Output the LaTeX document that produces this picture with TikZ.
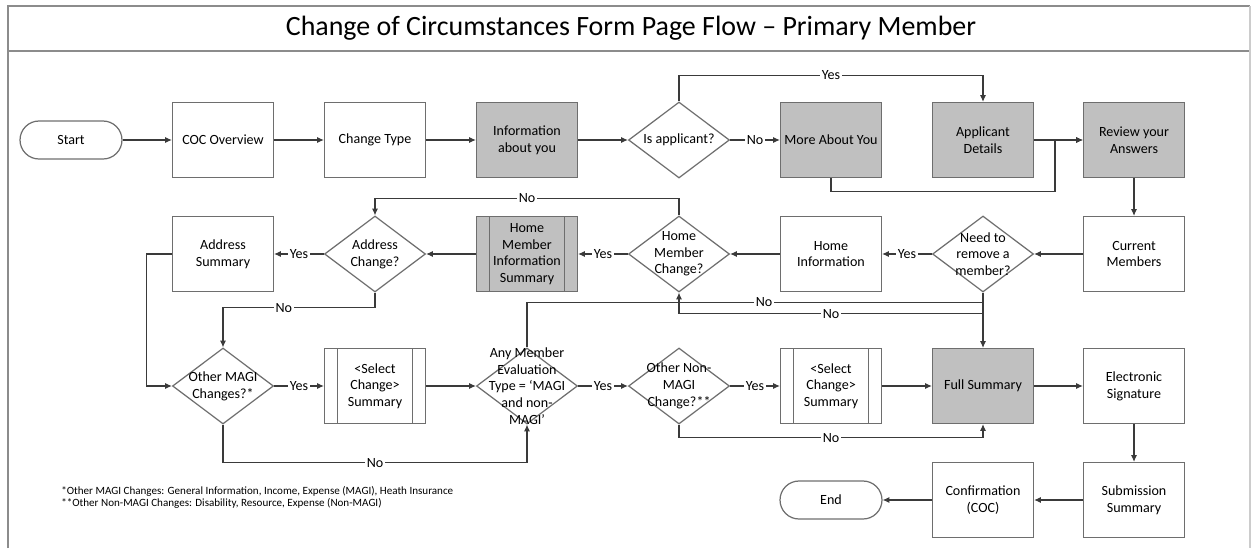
\documentclass[tikz,border=0pt]{standalone}
\usepackage{fontspec}
\setmainfont{Carlito}
\usetikzlibrary{shapes.geometric,arrows.meta}
\definecolor{boxgray}{HTML}{C0C0C0}
\definecolor{edgegray}{HTML}{6E6E6E}
\definecolor{linegray}{HTML}{3A3A3A}
\definecolor{framegray}{HTML}{8C8C8C}

\begin{document}
\begin{tikzpicture}[x=0.02cm, y=-0.02cm, >={Latex[length=3.8pt,width=3.4pt]},
	font=\fontsize{8}{9.5}\selectfont,
	main/.style = {draw=edgegray, line width=0.7pt, rectangle, minimum width=2.02cm, minimum height=1.5cm, inner sep=1pt, align=center},
	page/.style = {main, fill=boxgray},
	sub/.style = {main, path picture={\draw[edgegray, line width=0.7pt]
		([xshift=0.26cm]path picture bounding box.north west) -- ([xshift=0.26cm]path picture bounding box.south west)
		([xshift=-0.26cm]path picture bounding box.north east) -- ([xshift=-0.26cm]path picture bounding box.south east);}},
	term/.style = {draw=edgegray, line width=0.7pt, rounded corners=0.38cm, minimum width=2.04cm, minimum height=0.76cm},
	ask/.style = {draw=edgegray, line width=0.7pt, diamond, minimum width=2.02cm, minimum height=1.52cm, inner sep=0pt},
	flow/.style = {->, linegray, line width=0.6pt},
	ans/.style = {fill=white, inner sep=1pt, text=black},
	note/.style = {anchor=west, inner sep=0pt, font=\fontsize{6.3}{7.5}\selectfont}]
	\useasboundingbox (0,0) rectangle (1251,548);
	
	% frame and title band
	\draw[framegray, line width=1.2pt] (8,548) -- (8,6) -- (1250,6);
	\draw[framegray, line width=1.2pt] (8,51) -- (1250,51);
	\draw[black!20, line width=1pt] (1250,6) -- (1250,548);
	\node (title) at (631,28) {\fontsize{15.9}{18}\selectfont Change of Circumstances Form Page Flow – Primary Member};
	
	\node[term] (start) at (71,140) {Start};
	\node[main] (coc) at (223,140) {COC Overview};
	\node[main] (ctype) at (375,140) {Change Type};
	\node[page] (info) at (527,140) {Information\\about you};
	\node[ask, label={[align=center]center:Is applicant?}] (isapp) at (679,140) {};
	\node[page] (more) at (831,140) {More About You};
	\node[page] (appdet) at (983,140) {Applicant\\Details};
	\node[page] (review) at (1134,140) {Review your\\Answers};
	
	\node[main] (addrsum) at (223,254) {Address\\Summary};
	\node[ask, label={[align=center]center:Address\\Change?}] (addrchg) at (375,254) {};
	\node[sub, fill=boxgray] (hmis) at (527,254) {Home\\Member\\Information\\Summary};
	\node[ask, label={[align=center]center:Home\\Member\\Change?}] (hmchg) at (679,254) {};
	\node[main] (homeinfo) at (831,254) {Home\\Information};
	\node[ask, label={[align=center]center:Need to\\remove a\\member?}] (needrm) at (983,254) {};
	\node[main] (curmem) at (1134,254) {Current\\Members};
	
	\node[ask, label={[align=center]center:Other MAGI\\Changes?*}] (magi) at (223,386) {};
	\node[sub] (sel1) at (375,386) {<Select\\Change>\\Summary};
	\node[ask, label={[align=center]center:Any Member\\Evaluation\\Type = ‘MAGI\\and non-\\MAGI’}] (anymem) at (527,386) {};
	\node[ask, label={[align=center]center:Other Non-\\MAGI\\Change?**}] (nonmagi) at (679,386) {};
	\node[sub] (sel2) at (831,386) {<Select\\Change>\\Summary};
	\node[page] (fullsum) at (983,386) {Full Summary};
	\node[main] (esig) at (1134,386) {Electronic\\Signature};
	
	\node[term] (endn) at (831,500) {End};
	\node[main] (confirm) at (983,500) {Confirmation\\(COC)};
	\node[main] (subsum) at (1134,500) {Submission\\Summary};
	
	\node[note] (note1) at (61,491) {*Other MAGI Changes: General Information, Income, Expense (MAGI), Heath Insurance};
	\node[note] (note2) at (61,503) {**Other Non-MAGI Changes: Disability, Resource, Expense (Non-MAGI)};
	
	\coordinate (join) at (1055,140);
	
	\draw[flow] (start.east) -- (coc.west);
	\draw[flow] (coc.east) -- (ctype.west);
	\draw[flow] (ctype.east) -- (info.west);
	\draw[flow] (info.east) -- (isapp.west);
	\draw[flow] (isapp.east) -- node[ans]{No} (more.west);
	\draw[flow] (isapp.north) -- ++(0,-26) -| node[pos=0.25, ans]{Yes} (appdet.north);
	\draw[flow] (appdet.east) -- (review.west);
	\draw[flow] (more.south) -- ++(0,13) -| (join) -- (review.west);
	\draw[flow] (review.south) -- (curmem.north);
	\draw[flow] (curmem.west) -- (needrm.east);
	\draw[flow] (needrm.west) -- node[ans]{Yes} (homeinfo.east);
	\draw[flow] (homeinfo.west) -- (hmchg.east);
	\draw[flow] (hmchg.west) -- node[ans]{Yes} (hmis.east);
	\draw[flow] (hmis.west) -- (addrchg.east);
	\draw[flow] (addrchg.west) -- node[ans]{Yes} (addrsum.east);
	\draw[flow] (hmchg.north) -- ++(0,-17) -| node[pos=0.25, ans]{No} (addrchg.north);
	\draw[flow] (needrm.south) -- ++(0,21) -| node[pos=0.25, ans]{No} (hmchg.south);
	\draw[flow] (addrchg.south) -- ++(0,15) -| node[pos=0.3, ans]{No} (magi.north);
	\draw[flow] (addrsum.west) -- ++(-25,0) |- (magi.west);
	\draw[flow] (magi.east) -- node[ans]{Yes} (sel1.west);
	\draw[flow] (sel1.east) -- (anymem.west);
	\draw[flow] (magi.south) -- ++(0,38) -| node[pos=0.25, ans]{No} (anymem.south);
	\draw[flow] (anymem.north) -- ++(0,-45) -| node[pos=0.26, ans]{No} (fullsum.north);
	\draw[flow] (anymem.east) -- node[ans]{Yes} (nonmagi.west);
	\draw[flow] (nonmagi.east) -- node[ans]{Yes} (sel2.west);
	\draw[flow] (nonmagi.south) -- ++(0,13) -| node[pos=0.25, ans]{No} (fullsum.south);
	\draw[flow] (sel2.east) -- (fullsum.west);
	\draw[flow] (fullsum.east) -- (esig.west);
	\draw[flow] (esig.south) -- (subsum.north);
	\draw[flow] (subsum.west) -- (confirm.east);
	\draw[flow] (confirm.west) -- (endn.east);
\end{tikzpicture}
\end{document}
